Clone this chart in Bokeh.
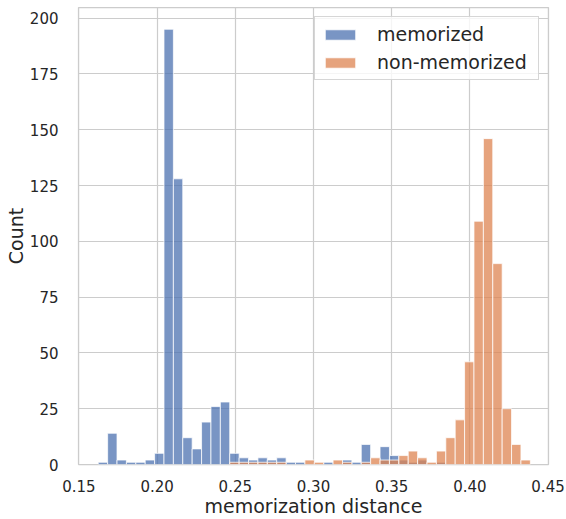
from bokeh.plotting import figure
from bokeh.models import Range1d, FixedTicker, Legend, LegendItem, ColumnDataSource, NumeralTickFormatter
from bokeh.embed import file_html
from bokeh.resources import INLINE

# histogram bins (46 common bins)
bin_start = 0.16232
bin_width = 0.006008

memorized_counts = [1, 14, 2, 1, 1, 2, 5, 195, 128, 12, 7, 19, 26, 28, 5, 3,
                    2, 3, 2, 3, 1, 1, 0, 0, 1, 0, 2, 1, 9, 0, 8, 4,
                    2, 1, 2, 0, 1, 0, 0, 0, 0, 0, 0, 0, 0, 0]
non_memorized_counts = [0, 0, 0, 0, 0, 0, 0, 0, 0, 0, 0, 0, 0, 0, 1, 1,
                        1, 1, 1, 1, 0, 0, 2, 1, 0, 2, 1, 0, 1, 3, 2, 2,
                        4, 6, 3, 1, 6, 12, 20, 46, 109, 146, 90, 25, 9, 2]

series_labels = ["memorized", "non-memorized"]
series_colors = ["#4C72B0", "#DD8452"]

x_ticks = [0.15, 0.20, 0.25, 0.30, 0.35, 0.40, 0.45]
y_ticks = [0, 25, 50, 75, 100, 125, 150, 175, 200]

FONT = "DejaVu Sans"
TXT = "#262626"
GRID = "#cccccc"

p = figure(width=566, height=519, x_range=Range1d(0.1497, 0.4503),
           y_range=Range1d(0, 204.75), output_backend="svg", toolbar_location=None,
           min_border_left=78, min_border_right=18, min_border_top=7, min_border_bottom=54)

renderers = []
for counts, color in zip([memorized_counts, non_memorized_counts], series_colors):
    left, right, top = [], [], []
    for i, c in enumerate(counts):
        if c > 0:
            left.append(bin_start + i * bin_width)
            right.append(bin_start + (i + 1) * bin_width)
            top.append(c)
    src = ColumnDataSource(dict(left=left, right=right, top=top, bottom=[0] * len(top)))
    r = p.quad(left="left", right="right", top="top", bottom="bottom", source=src,
               fill_color=color, fill_alpha=0.75, line_color="white", line_alpha=0.75,
               line_width=1)
    renderers.append(r)

p.background_fill_color = "white"
p.border_fill_color = "white"
p.outline_line_color = GRID
p.outline_line_width = 1.25

p.xaxis.ticker = FixedTicker(ticks=x_ticks)
p.yaxis.ticker = FixedTicker(ticks=y_ticks)
p.xaxis.formatter = NumeralTickFormatter(format="0.00")

p.xgrid.grid_line_color = GRID
p.ygrid.grid_line_color = GRID
p.xgrid.grid_line_width = 1.2
p.ygrid.grid_line_width = 1.2

for ax in [p.xaxis[0], p.yaxis[0]]:
    ax.axis_line_color = None
    ax.major_tick_line_color = None
    ax.minor_tick_line_color = None
    ax.major_label_text_font = FONT
    ax.major_label_text_font_size = "15px"
    ax.major_label_text_color = TXT
    ax.axis_label_text_font = FONT
    ax.axis_label_text_font_size = "19px"
    ax.axis_label_text_font_style = "normal"
    ax.axis_label_text_color = TXT

p.xaxis.axis_label = "memorization distance"
p.yaxis.axis_label = "Count"
p.xaxis.major_label_standoff = 9
p.xaxis.axis_label_standoff = 0
p.yaxis.major_label_standoff = 14
p.yaxis.axis_label_standoff = 0

legend = Legend(items=[LegendItem(label=series_labels[0], renderers=[renderers[0]]),
                       LegendItem(label=series_labels[1], renderers=[renderers[1]])],
                location="top_right")
legend.label_text_font = FONT
legend.label_text_font_size = "19px"
legend.label_text_color = TXT
legend.glyph_width = 38
legend.glyph_height = 13
legend.label_height = 20
legend.label_width = 155
legend.label_standoff = 18
legend.spacing = 6
legend.padding = 6
legend.margin = 9
legend.border_line_color = GRID
legend.border_line_alpha = 0.8
legend.background_fill_alpha = 0.8
p.add_layout(legend)

open("out.html", "w").write(file_html(p, INLINE))
